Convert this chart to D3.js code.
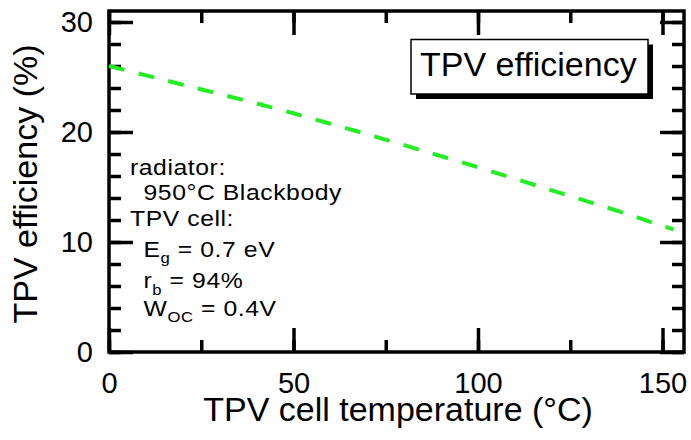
<!DOCTYPE html>
<html>
<head>
<meta charset="utf-8">
<script src="https://cdn.jsdelivr.net/npm/d3@7"></script>
<style>
  html, body { margin: 0; padding: 0; background: #fff; }
  svg { display: block; }
  text { font-family: "Liberation Sans", Arial, Helvetica, sans-serif; fill: #000; }
</style>
</head>
<body>
<svg id="chart" width="691" height="440"></svg>
<script>
// ---- data ----
const temperatures = [0, 10, 20, 30, 40, 50, 60, 70, 80, 90, 100, 110, 120, 130, 140, 150, 153];
const efficiency   = [26.0, 25.15, 24.3, 23.45, 22.6, 21.7, 20.75, 19.8, 18.8, 17.8, 16.8, 15.75, 14.7, 13.65, 12.6, 11.45, 11.15];
const xTickLabels = [0, 50, 100, 150];
const yTickLabels = [0, 10, 20, 30];
const xLabel = "TPV cell temperature (°C)";
const yLabel = "TPV efficiency (%)";
const legendLabel = "TPV efficiency";
const noteLines = [
  { indent: 0, parts: [["radiator:", ""]] },
  { indent: 1, parts: [["950°C Blackbody", ""]] },
  { indent: 0, parts: [["TPV cell:", ""]] },
  { indent: 1, parts: [["E", ""], ["g", "sub"], [" = 0.7 eV", ""]] },
  { indent: 1, parts: [["r", ""], ["b", "sub"], [" = 94%", ""]] },
  { indent: 1, parts: [["W", ""], ["OC", "sub"], [" = 0.4V", ""]] }
];

// ---- layout ----
const L = 109, R = 684, T = 11, B = 352;
const svg = d3.select("#chart");
const x = d3.scaleLinear().domain([0, 150]).range([L, 662.5]);
x.domain([0, x.invert(R)]).range([L, R]);
const y = d3.scaleLinear().domain([0, 31]).range([B, T]);

const lw = 3.5;
function styleAxis(g) {
  g.select(".domain").remove();
  g.selectAll(".tick line").attr("stroke", "#000").attr("stroke-width", lw);
  g.selectAll(".tick text").attr("font-family", '"Liberation Sans", Arial, sans-serif')
    .attr("font-size", 29).attr("fill", "#000");
}

const xMinor = d3.range(0, 156, 25);
const yMinor = d3.range(0, 31, 2);

// bottom
svg.append("g").attr("transform", `translate(0,${B})`)
  .call(d3.axisBottom(x).tickValues(xMinor).tickSize(-12).tickFormat("")).call(styleAxis);
svg.append("g").attr("transform", `translate(0,${B})`)
  .call(d3.axisBottom(x).tickValues(xTickLabels).tickSize(-24).tickPadding(20).tickFormat(d3.format("d"))).call(styleAxis);
// top
svg.append("g").attr("transform", `translate(0,${T})`)
  .call(d3.axisTop(x).tickValues(xMinor).tickSize(-12).tickFormat("")).call(styleAxis);
svg.append("g").attr("transform", `translate(0,${T})`)
  .call(d3.axisTop(x).tickValues(xTickLabels).tickSize(-24).tickFormat("")).call(styleAxis);
// left
svg.append("g").attr("transform", `translate(${L},0)`)
  .call(d3.axisLeft(y).tickValues(yMinor).tickSize(-12).tickFormat("")).call(styleAxis);
svg.append("g").attr("transform", `translate(${L},0)`)
  .call(d3.axisLeft(y).tickValues(yTickLabels).tickSize(-24).tickPadding(16).tickFormat(d3.format("d"))).call(styleAxis);
// right
svg.append("g").attr("transform", `translate(${R},0)`)
  .call(d3.axisRight(y).tickValues(yMinor).tickSize(-12).tickFormat("")).call(styleAxis);
svg.append("g").attr("transform", `translate(${R},0)`)
  .call(d3.axisRight(y).tickValues(yTickLabels).tickSize(-24).tickFormat("")).call(styleAxis);

// frame
svg.append("rect").attr("x", L).attr("y", T).attr("width", R - L).attr("height", B - T)
  .attr("fill", "none").attr("stroke", "#000").attr("stroke-width", lw);

// data line
const line = d3.line().x((d, i) => x(temperatures[i])).y(d => y(d));
svg.append("path").datum(efficiency).attr("d", line)
  .attr("fill", "none").attr("stroke", "#22ee22").attr("stroke-width", 4)
  .attr("stroke-dasharray", "16,14.5");

// legend box with shadow
const lgX = 411, lgY = 39.5, lgW = 237, lgH = 54.5;
svg.append("rect").attr("x", lgX + 5).attr("y", lgY + 5).attr("width", lgW).attr("height", lgH).attr("fill", "#000");
svg.append("rect").attr("x", lgX).attr("y", lgY).attr("width", lgW).attr("height", lgH)
  .attr("fill", "#fff").attr("stroke", "#000").attr("stroke-width", 1.5);
svg.append("text").attr("x", 420).attr("y", 76).attr("font-size", 34).text(legendLabel);

// axis labels
svg.append("text").attr("x", 398).attr("y", 420.5).attr("text-anchor", "middle")
  .attr("font-size", 34).text(xLabel);
svg.append("text").attr("transform", "translate(36.5,184) rotate(-90)").attr("text-anchor", "middle")
  .attr("font-size", 34).text(yLabel);

// annotation
const noteBaselines = [175, 200, 225.5, 256.5, 288, 315.5];
const indentX = [130, 143.5];
noteLines.forEach((ln, i) => {
  const t = svg.append("text")
    .attr("transform", `translate(${indentX[ln.indent]},${noteBaselines[i]}) scale(1.15,1)`)
    .attr("font-size", 21.5).attr("letter-spacing", 0.5);
  ln.parts.forEach(([s, kind]) => {
    const ts = t.append("tspan").text(s);
    if (kind === "sub") ts.attr("font-size", 14.5).attr("dy", 6.5);
    else if (t.selectAll("tspan").size() > 1) ts.attr("dy", -6.5);
  });
});
</script>
</body>
</html>
